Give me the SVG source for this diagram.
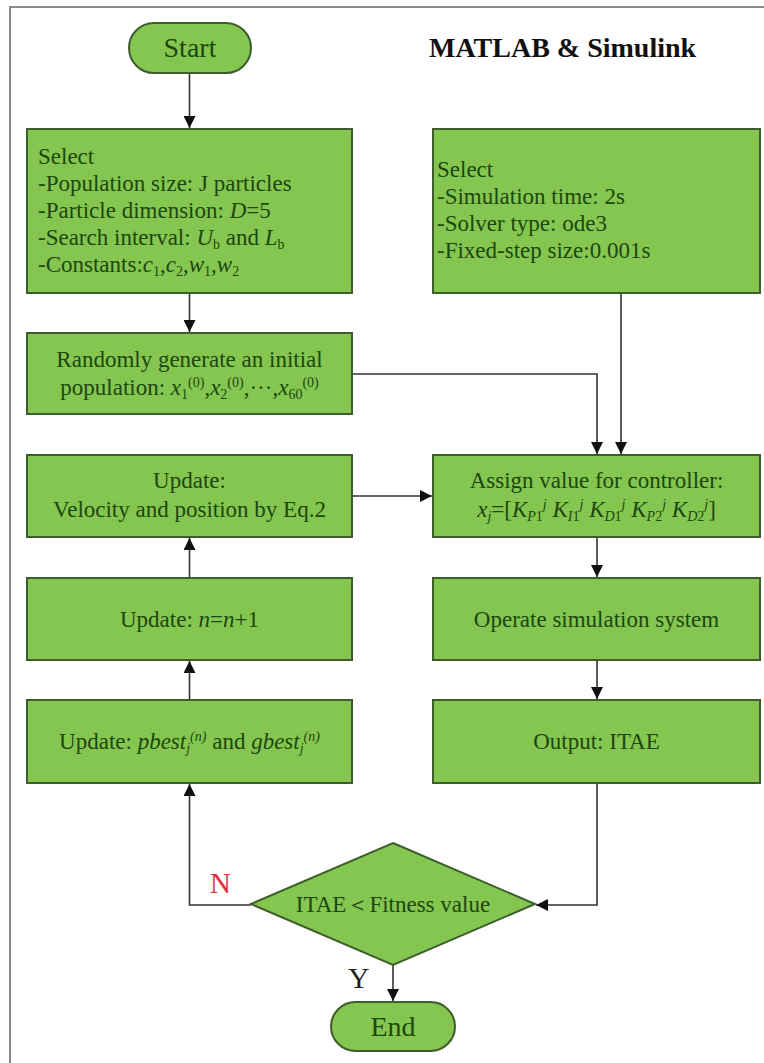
<svg xmlns="http://www.w3.org/2000/svg" width="764" height="1063" viewBox="0 0 764 1063" font-family="Liberation Serif, Times New Roman, serif">
<defs>
<style>
.box{fill:#84c64f;stroke:#3d5e2c;stroke-width:2}
.t{font-size:23px;fill:#1d4710}
.big{font-size:28px}
.c{text-anchor:middle}
.i{font-style:italic}
.sm{font-size:14px}
.conn{fill:none;stroke:#333;stroke-width:1.6}
</style>
<marker id="ah" markerUnits="userSpaceOnUse" markerWidth="12" markerHeight="12" viewBox="0 0 12 12" refX="12" refY="6" orient="auto">
<path d="M0,0 L12,6 L0,12 z" fill="#111"/>
</marker>
</defs>
<rect x="0" y="0" width="764" height="1063" fill="#fff"/>
<rect x="10" y="7" width="800" height="1100" fill="none" stroke="#8a8a8a" stroke-width="2"/>
<text x="429" y="57" font-weight="bold" font-size="28" fill="#111">MATLAB &amp; Simulink</text>

<g id="connectors">
<path class="conn" d="M189.5,73 V128" marker-end="url(#ah)"/>
<path class="conn" d="M189.5,293 V332" marker-end="url(#ah)"/>
<path class="conn" d="M352,374 H597 V454" marker-end="url(#ah)"/>
<path class="conn" d="M621,293 V454" marker-end="url(#ah)"/>
<path class="conn" d="M352,496 H432" marker-end="url(#ah)"/>
<path class="conn" d="M189.5,578 V538" marker-end="url(#ah)"/>
<path class="conn" d="M189.5,700 V661" marker-end="url(#ah)"/>
<path class="conn" d="M597,537 V577" marker-end="url(#ah)"/>
<path class="conn" d="M597,660 V699" marker-end="url(#ah)"/>
<path class="conn" d="M597,783 V905 H536" marker-end="url(#ah)"/>
<path class="conn" d="M251,905 H189.5 V784" marker-end="url(#ah)"/>
<path class="conn" d="M393,965 V1001" marker-end="url(#ah)"/>
<text x="210" y="893" font-size="29" fill="#e0303a">N</text>
<text x="348" y="988" font-size="30" fill="#222">Y</text>
</g>

<g id="start">
<rect class="box" x="129" y="23" width="122" height="50" rx="25"/>
<text class="t c big" x="190" y="57">Start</text>
</g>

<g id="select-pso">
<rect class="box" x="27" y="129" width="325" height="164"/>
<text class="t" x="38" y="164">Select</text>
<text class="t" x="38" y="191">-Population size: J particles</text>
<text class="t" x="38" y="218">-Particle dimension: <tspan class="i">D</tspan>=5</text>
<text class="t" x="38" y="245">-Search interval: <tspan class="i">U</tspan><tspan class="sm" dy="4">b</tspan><tspan dy="-4"> and </tspan><tspan class="i">L</tspan><tspan class="sm" dy="4">b</tspan></text>
<text class="t" x="38" y="272">-Constants:<tspan class="i">c</tspan><tspan class="sm" dy="4">1</tspan><tspan dy="-4">,</tspan><tspan class="i">c</tspan><tspan class="sm" dy="4">2</tspan><tspan dy="-4">,</tspan><tspan class="i">w</tspan><tspan class="sm" dy="4">1</tspan><tspan dy="-4">,</tspan><tspan class="i">w</tspan><tspan class="sm" dy="4">2</tspan></text>
</g>

<g id="select-sim">
<rect class="box" x="433" y="129" width="327" height="164"/>
<text class="t" x="437" y="177">Select</text>
<text class="t" x="437" y="204">-Simulation time: 2s</text>
<text class="t" x="437" y="231">-Solver type: ode3</text>
<text class="t" x="437" y="258">-Fixed-step size:0.001s</text>
</g>

<g id="random">
<rect class="box" x="27" y="333" width="325" height="81"/>
<text class="t c" x="189.5" y="367">Randomly generate an initial</text>
<text class="t c" x="189.5" y="395">population: <tspan class="i">x</tspan><tspan class="sm" dy="4">1</tspan><tspan class="sm" dy="-12">(0)</tspan><tspan dy="8">,</tspan><tspan class="i">x</tspan><tspan class="sm" dy="4">2</tspan><tspan class="sm" dy="-12">(0)</tspan><tspan dy="8">,···,</tspan><tspan class="i">x</tspan><tspan class="sm" dy="4">60</tspan><tspan class="sm" dy="-12">(0)</tspan></text>
</g>

<g id="update-velocity">
<rect class="box" x="27" y="455" width="325" height="82"/>
<text class="t c" x="189.5" y="488">Update:</text>
<text class="t c" x="189.5" y="517">Velocity and position by Eq.2</text>
</g>

<g id="update-n">
<rect class="box" x="27" y="578" width="325" height="82"/>
<text class="t c" x="189.5" y="627">Update: <tspan class="i">n</tspan>=<tspan class="i">n</tspan>+1</text>
</g>

<g id="update-best">
<rect class="box" x="27" y="700" width="325" height="83"/>
<text class="t c" x="189.5" y="749">Update: <tspan class="i">pbest</tspan><tspan class="sm i" dy="4">j</tspan><tspan class="sm i" dy="-12">(n)</tspan><tspan dy="8"> and </tspan><tspan class="i">gbest</tspan><tspan class="sm i" dy="4">j</tspan><tspan class="sm i" dy="-12">(n)</tspan></text>
</g>

<g id="assign">
<rect class="box" x="433" y="455" width="327" height="82"/>
<text class="t c" x="596.5" y="488">Assign value for controller:</text>
<text class="t c" x="596.5" y="517"><tspan class="i">x</tspan><tspan class="sm i" dy="4">j</tspan><tspan dy="-4">=[</tspan><tspan class="i">K</tspan><tspan class="sm i" dy="4">P</tspan><tspan class="sm">1</tspan><tspan class="sm i" dy="-12">j</tspan><tspan dy="8"> </tspan><tspan class="i">K</tspan><tspan class="sm i" dy="4">I</tspan><tspan class="sm">1</tspan><tspan class="sm i" dy="-12">j</tspan><tspan dy="8"> </tspan><tspan class="i">K</tspan><tspan class="sm i" dy="4">D</tspan><tspan class="sm">1</tspan><tspan class="sm i" dy="-12">j</tspan><tspan dy="8"> </tspan><tspan class="i">K</tspan><tspan class="sm i" dy="4">P</tspan><tspan class="sm">2</tspan><tspan class="sm i" dy="-12">j</tspan><tspan dy="8"> </tspan><tspan class="i">K</tspan><tspan class="sm i" dy="4">D</tspan><tspan class="sm">2</tspan><tspan class="sm i" dy="-12">j</tspan><tspan dy="8">]</tspan></text>
</g>

<g id="operate">
<rect class="box" x="433" y="578" width="327" height="82"/>
<text class="t c" x="596.5" y="627">Operate simulation system</text>
</g>

<g id="output">
<rect class="box" x="433" y="700" width="327" height="83"/>
<text class="t c" x="596.5" y="749">Output: ITAE</text>
</g>

<g id="decision">
<polygon class="box" points="393,843 535,904 393,965 251,904"/>
<text class="t c" x="393" y="912">ITAE＜Fitness value</text>
</g>

<g id="end">
<rect class="box" x="331" y="1002" width="124" height="49" rx="24.5"/>
<text class="t c big" x="393" y="1036">End</text>
</g>
</svg>
